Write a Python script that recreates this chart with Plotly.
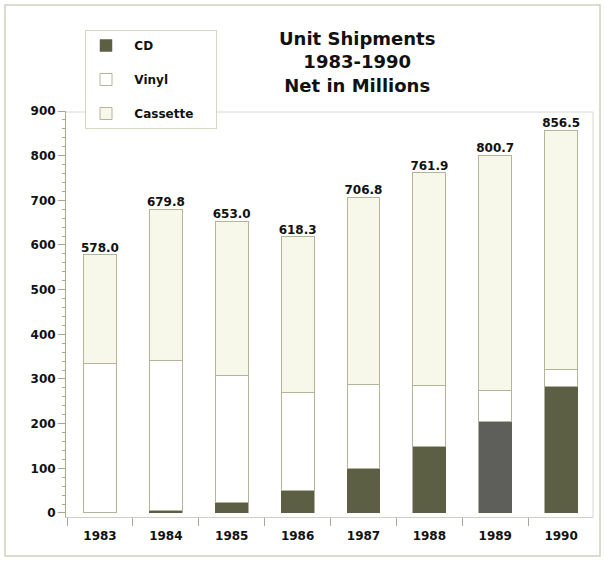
import plotly.graph_objects as go

years = ["1983", "1984", "1985", "1986", "1987", "1988", "1989", "1990"]
cd = [0.8, 5.8, 22.6, 51.0, 100.0, 149.0, 204.0, 284.0]
vinyl = [334.2, 336.2, 285.4, 219.0, 188.0, 136.0, 71.0, 38.0]
cassette = [243.0, 337.8, 345.0, 348.3, 418.8, 476.9, 525.7, 534.5]
totals = [578.0, 679.8, 653.0, 618.3, 706.8, 761.9, 800.7, 856.5]
total_labels = ["578.0", "679.8", "653.0", "618.3", "706.8", "761.9", "800.7", "856.5"]
series_names = ["CD", "Vinyl", "Cassette"]

W, H = 605, 561
L, R, T, B = 66, 12, 111, 44
pw, ph = W - L - R, H - T - B

def px(x):
    return (x - L) / pw

def py(y):
    return (H - B - y) / ph

FONT = "DejaVu Sans"
olive = "#5d5f45"
cd_colors = [olive] * 8
cd_colors[6] = "#5e5e5a"
outline = "#b4b49a"
NB = "\u00a0"

def legend_name(n):
    return NB * 2 + n + NB * (12 - len(n))

fig = go.Figure()
fig.add_trace(go.Bar(x=years, y=cd, name=legend_name(series_names[0]), legendgroup="a",
                     marker=dict(color=cd_colors, line=dict(color=olive, width=0.5)),
                     width=0.5))
fig.add_trace(go.Bar(x=years, y=vinyl, name=legend_name(series_names[1]), legendgroup="b",
                     marker=dict(color="#ffffff", line=dict(color=outline, width=1)),
                     width=0.5))
fig.add_trace(go.Bar(x=years, y=cassette, name=legend_name(series_names[2]), legendgroup="c",
                     marker=dict(color="#f7f7ea", line=dict(color=outline, width=1)),
                     width=0.5))
fig.add_trace(go.Scatter(x=years, y=totals, mode="text", text=total_labels,
                         textposition="top center", showlegend=False,
                         textfont=dict(family=FONT, size=12, color="#111111", weight="bold"),
                         hoverinfo="skip"))

fig.update_layout(
    width=W, height=H,
    margin=dict(l=L, r=R, t=T, b=B),
    barmode="stack",
    paper_bgcolor="white", plot_bgcolor="white",
    font=dict(family=FONT, size=12, color="#111111"),
    showlegend=True,
    legend=dict(x=px(85), y=py(30), xanchor="left", yanchor="top",
                bgcolor="white", bordercolor="#d6d6c2", borderwidth=1,
                traceorder="grouped", tracegroupgap=15,
                font=dict(family=FONT, size=12, color="#111111", weight="bold"),
                itemwidth=30),
    xaxis=dict(type="category", range=[-0.516, 7.484], showgrid=False,
               showline=True, linecolor="#cfcfc4", linewidth=1,
               ticks="outside", tickson="boundaries", ticklen=8, tickcolor="#a8a8a0",
               ticklabelstandoff=8,
               tickfont=dict(family=FONT, size=12, color="#111111", weight="bold")),
    yaxis=dict(range=[-9, 900], showgrid=False, zeroline=False,
               showline=True, linecolor="#a9a98c", linewidth=1,
               tickvals=[0, 100, 200, 300, 400, 500, 600, 700, 800, 900],
               ticks="outside", ticklen=7, tickcolor="#a9a98c",
               minor=dict(dtick=20, ticks="outside", ticklen=3, tickcolor="#a9a98c"),
               tickfont=dict(family=FONT, size=12, color="#111111", weight="bold")),
    annotations=[dict(text="Unit Shipments<br>1983-1990<br>Net in Millions",
                      x=px(357), y=py(62), xref="paper", yref="paper",
                      xanchor="center", yanchor="middle", showarrow=False,
                      font=dict(family=FONT, size=18, color="#111111", weight="bold"))],
    shapes=[
        dict(type="line", xref="paper", yref="paper", x0=px(66), x1=px(593), y0=py(112), y1=py(112),
             line=dict(color="#d8d8d0", width=1), layer="below"),
        dict(type="line", xref="paper", yref="paper", x0=px(593), x1=px(593), y0=py(112), y1=py(517),
             line=dict(color="#d8d8d0", width=1), layer="below"),
        dict(type="rect", xref="paper", yref="paper", x0=px(5), x1=px(600), y0=py(5), y1=py(556),
             line=dict(color="#d0d0c0", width=1.5)),
    ],
)

fig.write_html("out.html", config={"displayModeBar": False},
               post_script="document.body.style.margin='0';")
